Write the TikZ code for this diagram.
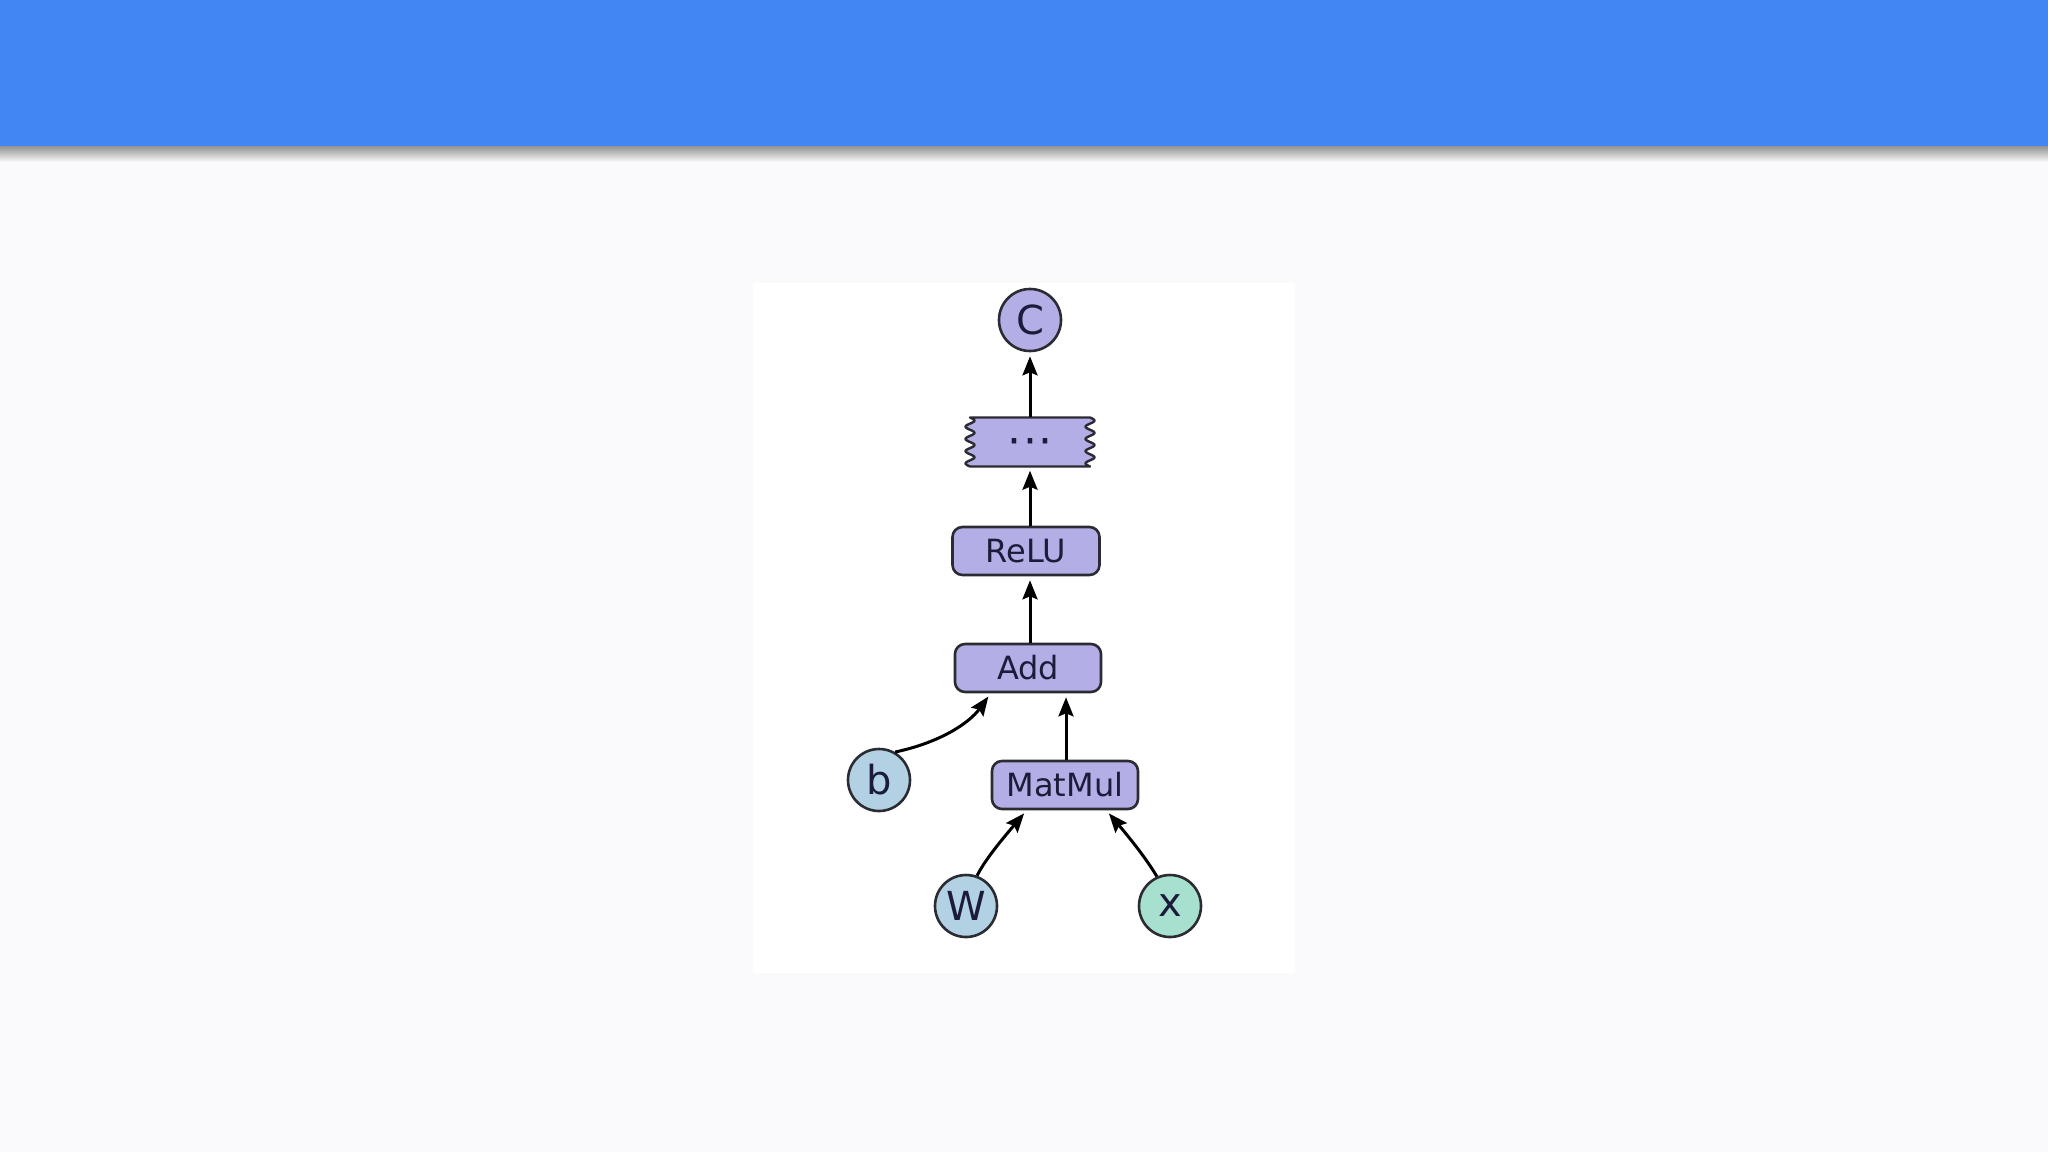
\documentclass[tikz,border=0pt]{standalone}
\usepackage{fontspec}
\setmainfont{DejaVu Sans}
\usetikzlibrary{arrows.meta,calc}
\definecolor{bgc}{HTML}{FAF9FB}
\definecolor{banner}{HTML}{4286F4}
\definecolor{purp}{HTML}{B3AFE6}
\definecolor{lblue}{HTML}{B2D2E4}
\definecolor{mint}{HTML}{A8E0D0}
\definecolor{edgec}{HTML}{2B2B33}
\definecolor{txtc}{HTML}{1C1C3A}
\tikzset{
  opbox/.style={draw=edgec, line width=2.6pt, fill=purp, rounded corners=10pt,
    minimum height=48pt, inner sep=0pt, text=txtc,
    font=\fontsize{32}{38}\selectfont},
  varc/.style={circle, draw=edgec, line width=2.6pt, minimum size=62pt, inner sep=0pt,
    text=txtc, font=\fontsize{40}{48}\selectfont},
  conn/.style={draw=black, line width=3pt,
    -{Stealth[length=19pt,width=15pt,inset=3pt]}, shorten >=4pt},
}
\begin{document}
\begin{tikzpicture}[x=1pt,y=-1pt]
\useasboundingbox (0,0) rectangle (2048,1152);
\fill[bgc] (0,0) rectangle (2048,1152);
\shade[top color=black!45, bottom color=bgc] (0,145) rectangle (2048,162);
\fill[banner] (0,0) rectangle (2048,146);
\fill[white] (753,283) rectangle (1295,973);

% nodes
\node[varc, fill=purp] (C) at (1030,320) {C};
\node[minimum width=128pt, minimum height=49pt, inner sep=0pt] (dots) at (1030,442) {};
\begin{scope}[shift={(dots.center)}]
\draw[draw=edgec, line width=2.4pt, fill=purp, line join=round]
  (-59,-24.5) -- (59,-24.5)
  -- plot[domain=-24.5:24.5, samples=60, smooth] ({60+4.5*sin(29.4*(\x+24.5))},\x)
  -- (-59,24.5)
  -- plot[domain=24.5:-24.5, samples=60, smooth] ({-60+4.5*sin(29.4*(\x+24.5))},\x)
  -- cycle;
\end{scope}
\node[anchor=base, text=txtc, font=\fontsize{44}{50}\selectfont, inner sep=0pt] (dotstext) at ([yshift=-14pt]dots.center) {·\hspace{1.5pt}·\hspace{1.5pt}·};
\node[opbox, minimum width=147pt] (relu) at (1026,551) {ReLU};
\node[opbox, minimum width=146pt] (add) at (1028,668) {Add};
\node[varc, fill=lblue] (b) at (879,780) {b};
\node[opbox, minimum width=146pt] (matmul) at (1065,785) {MatMul};
\node[varc, fill=lblue] (W) at (966,906) {W};
\node[varc, fill=mint] (x) at (1170,906) {x};

% connectors
\draw[conn] (dots.north) -- (C.south);
\draw[conn] (relu.north -| dots) -- (dots.south);
\draw[conn] (add.north -| dots) -- (relu.south -| dots);
\draw[conn] ([xshift=1pt]matmul.north) -- ([xshift=1pt]matmul.north |- add.south);
\draw[conn] (b.60) .. controls (942,742) and (970,722) .. ([xshift=37pt]add.south west);
\draw[conn] (W.70) .. controls (986,858) and (1005,836) .. ([xshift=36pt]matmul.south west);
\draw[conn] (x.114) .. controls (1146,858) and (1128,836) .. ([xshift=-33pt]matmul.south east);
\end{tikzpicture}
\end{document}
